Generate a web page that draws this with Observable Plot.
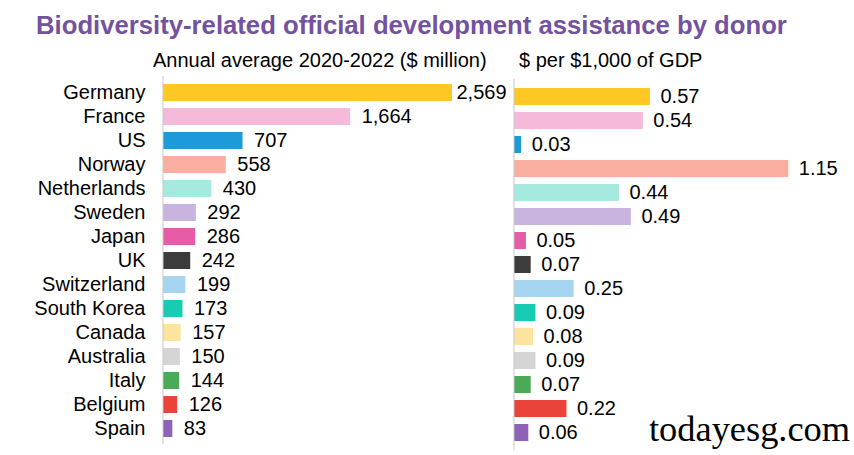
<!DOCTYPE html>
<html>
<head>
<meta charset="utf-8">
<script src="https://cdn.jsdelivr.net/npm/d3@7"></script>
<script src="https://cdn.jsdelivr.net/npm/@observablehq/plot@0.6"></script>
<style>
  html, body { margin: 0; padding: 0; background: #fff; }
  #wrap { position: relative; width: 854px; height: 455px; overflow: hidden; font-family: "Liberation Sans", Arial, sans-serif; background: #fff; }
  .abs { position: absolute; white-space: nowrap; }
  #title { left: 36px; top: 6.5px; font-size: 25.7px; font-weight: bold; color: #7352A0; line-height: 36px; }
  .sub { font-size: 20px; color: #000; line-height: 24px; top: 48px; }
  #wm { left: 649px; top: 409px; font-family: "Liberation Serif", "Times New Roman", serif; font-size: 36.4px; color: #000; line-height: 40px; }
</style>
</head>
<body>
<div id="wrap">
  <div id="title" class="abs">Biodiversity-related official development assistance by donor</div>
  <div class="abs sub" style="left:153px">Annual average 2020-2022 ($ million)</div>
  <div class="abs sub" style="left:519px">$ per $1,000 of GDP</div>
  <div id="left" class="abs" style="left:0px; top:0px"></div>
  <div id="right" class="abs" style="left:500px; top:0px"></div>
  <div id="wm" class="abs">todayesg.com</div>
</div>
<script>
const countries = ["Germany","France","US","Norway","Netherlands","Sweden","Japan","UK","Switzerland","South Korea","Canada","Australia","Italy","Belgium","Spain"];
const annualAvg = [2569,1664,707,558,430,292,286,242,199,173,157,150,144,126,83];
const perGdp = [0.57,0.54,0.03,1.15,0.44,0.49,0.05,0.07,0.25,0.09,0.08,0.09,0.07,0.22,0.06];
const colors = ["#FEC824","#F5B9DA","#1C9BD8","#FAAE9F","#A5E9DF","#C8B4DF","#E75CA6","#3C3C3C","#A6D5F1","#1ACBB3","#FDE49E","#D5D5D5","#4BAA55","#E9433A","#8D62B7"];

const rows = countries.map((c, i) => ({country: c, a: annualAvg[i], g: perGdp[i], color: colors[i]}));
const fmtA = d3.format(",");
const fmtG = d3.format(".2f");

const leftPlot = Plot.plot({
  width: 514,
  height: 455,
  marginTop: 76,
  marginBottom: 10.7,
  marginLeft: 163,
  marginRight: 62,
  style: {background: "transparent", fontFamily: "Liberation Sans, Arial, sans-serif", fontSize: "20px", color: "#000"},
  x: {domain: [0, 2569], axis: null},
  y: {domain: countries, padding: 0.3, label: null, tickSize: 0, tickPadding: 18},
  color: {type: "identity"},
  marks: [
    Plot.barX(rows, {y: "country", x: "a", fill: "color"}),
    Plot.ruleX([0], {stroke: "#C8C8C8", strokeWidth: 1, dx: -0.5}),
    Plot.text(rows.filter(d => d.country !== "Germany"), {y: "country", x: "a", text: d => fmtA(d.a), textAnchor: "start", dx: 11, fill: "#000", fontSize: 20}),
    Plot.text(rows.filter(d => d.country === "Germany"), {y: "country", x: "a", text: d => fmtA(d.a), textAnchor: "start", dx: 4, fill: "#000", fontSize: 20}),
    Plot.axisY({tickSize: 0, tickPadding: 18, fontSize: 20, fill: "#000", label: null})
  ]
});
document.getElementById("left").appendChild(leftPlot);

const rightPlot = Plot.plot({
  width: 354,
  height: 455,
  marginTop: 78.7,
  marginBottom: 4.4,
  marginLeft: 14,
  marginRight: 65.7,
  style: {background: "transparent", fontFamily: "Liberation Sans, Arial, sans-serif", fontSize: "20px", color: "#000"},
  x: {domain: [0, 1.15], axis: null},
  y: {domain: countries, padding: 0.3, axis: null},
  color: {type: "identity"},
  marks: [
    Plot.barX(rows, {y: "country", x: "g", fill: "color"}),
    Plot.ruleX([0], {stroke: "#C8C8C8", strokeWidth: 1, dx: -0.5}),
    Plot.text(rows, {y: "country", x: "g", text: d => fmtG(d.g), textAnchor: "start", dx: 10, fill: "#000", fontSize: 20})
  ]
});
document.getElementById("right").appendChild(rightPlot);
</script>
</body>
</html>
